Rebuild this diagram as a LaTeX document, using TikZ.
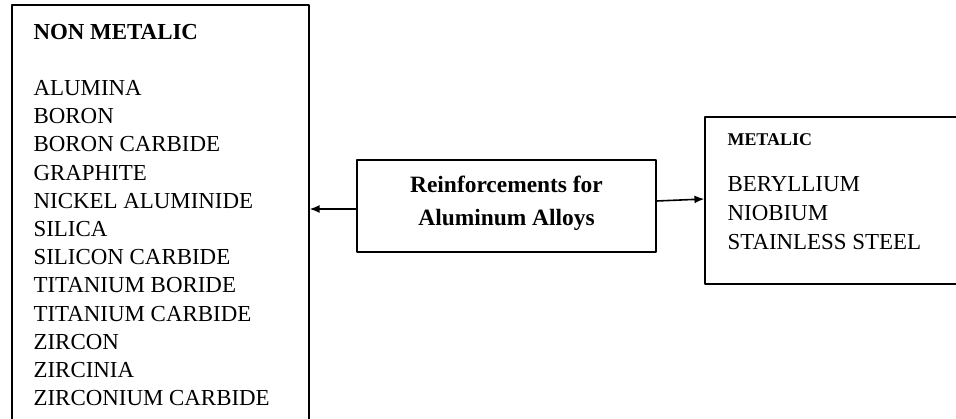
\documentclass[tikz,border=0pt]{standalone}
\usepackage{fontspec}
\setmainfont{Liberation Serif}
\usetikzlibrary{arrows.meta}
\begin{document}
\begin{tikzpicture}[>={Latex[length=10bp,width=8bp]},line join=bevel,line width=1.2pt,
  box/.style={draw,rectangle,inner sep=0pt},
  item/.style={anchor=base west,inner sep=0pt,font=\fontsize{23}{28}\selectfont},
  head/.style={anchor=base west,inner sep=0pt,font=\fontsize{23}{28}\selectfont\bfseries},
  title/.style={anchor=base,inner sep=0pt,font=\fontsize{23.5}{28}\selectfont\bfseries}]
\useasboundingbox (0bp,0bp) rectangle (956bp,419bp);
%%
\node (nonmetal) at (160.5bp,204.5bp) [box,minimum width=297bp,minimum height=419bp] {};
  \node (reinf) at (506.5bp,213bp) [box,minimum width=299bp,minimum height=92bp] {};
  \node (metal) at (835bp,218.5bp) [box,minimum width=260bp,minimum height=167bp] {};
%
\node (nm-head) at (33bp,379.5bp) [head] {NON METALIC};
\foreach \name [count=\i from 0] in {ALUMINA,BORON,BORON CARBIDE,GRAPHITE,NICKEL ALUMINIDE,SILICA,SILICON CARBIDE,TITANIUM BORIDE,TITANIUM CARBIDE,ZIRCON,ZIRCINIA,ZIRCONIUM CARBIDE}
  \node (nm-\i) at (33bp,323.5bp-\i*28.2bp) [item] {\name};
%
\node (reinf-1) at (506.5bp,226bp) [title] {Reinforcements for};
  \node (reinf-2) at (506.5bp,193bp) [title] {Aluminum Alloys};
%
\node (m-head) at (727bp,273bp) [head,font=\fontsize{18}{22}\selectfont\bfseries] {METALIC};
  \node (m-0) at (727bp,227.5bp) [item] {BERYLLIUM};
  \node (m-1) at (727bp,198.5bp) [item] {NIOBIUM};
  \node (m-2) at (727bp,169.5bp) [item] {STAINLESS STEEL};
%
\draw [black,->,line width=1.6pt] ([yshift=-3bp]reinf.west) -- ([yshift=-3bp]reinf.west -| nonmetal.east);
  \draw [black,->,line width=1.6pt] ([yshift=5bp]reinf.east) -- ([yshift=1.5bp]metal.west);
%
\end{tikzpicture}
\end{document}
